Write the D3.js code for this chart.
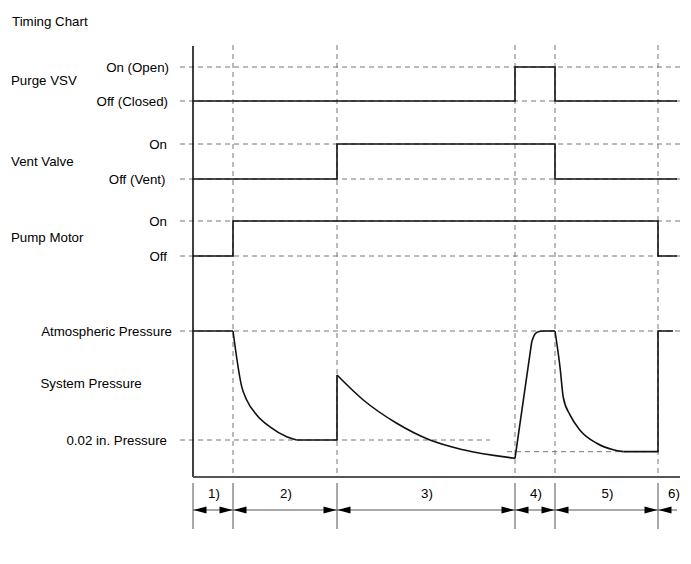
<!DOCTYPE html>
<html><head><meta charset="utf-8">
<script src="https://cdn.jsdelivr.net/npm/d3@7"></script>
<style>html,body{margin:0;padding:0;background:#fff;}svg{display:block;font-family:"Liberation Sans",Arial,sans-serif;}</style>
</head><body>
<svg id="chart" width="691" height="564"></svg>
<script>
// ---- data ----
const title = "Timing Chart";
const phaseBounds = [0, 40, 144, 322, 362, 465];
const phaseLabels = ["1)", "2)", "3)", "4)", "5)", "6)"];
const timeEnd = 487;
const signalEnd = 484;

const signalNames = ["Purge VSV", "Vent Valve", "Pump Motor"];
const signalOnLabels = ["On (Open)", "On", "On"];
const signalOffLabels = ["Off (Closed)", "Off (Vent)", "Off"];
const purgeTimes = [0, 322, 362, signalEnd];
const purgeStates = [0, 1, 0, 0];
const ventTimes = [0, 144, 362, signalEnd];
const ventStates = [0, 1, 0, 0];
const pumpTimes = [0, 40, 465, signalEnd];
const pumpStates = [0, 1, 0, 0];

// pressure: 1 = atmospheric, 0 = 0.02 in. pressure
const pressureLabels = ["Atmospheric Pressure", "System Pressure", "0.02 in. Pressure"];
const pressPhase1 = [[0, 1], [40, 1]];
const pressPhase2 = [[40, 1], [48.7, 0.49], [53.7, 0.367], [63.7, 0.23], [77, 0.12], [93.7, 0.03], [103.7, 0]];
const pressPhase2Hold = [[103.7, 0], [144, 0], [144, 0.596]];
const pressPhase3 = [[144, 0.596], [170.3, 0.367], [203.7, 0.154], [237, 0], [270.3, -0.09], [322, -0.168]];
const pressPhase4Rise = [[322, -0.168], [338.7, 0.9]];
const pressPhase4Top = [[338.7, 0.9], [342, 0.972], [346, 0.995], [350, 1]];
const pressPhase4Hold = [[350, 1], [362, 1]];
const pressPhase5 = [[362, 1], [367, 0.67], [370.3, 0.39], [377, 0.23], [387, 0.09], [403.7, -0.03], [420.3, -0.09], [430.3, -0.107]];
const pressPhase5Hold = [[430.3, -0.107], [465, -0.107], [465, 1], [480, 1]];
const pressLowLevel = -0.107;

// ---- layout ----
const svg = d3.select("#chart");
const fs = 13.3;
const x = d3.scaleLinear().domain([0, timeEnd]).range([193, 680]);
const signalY = [
  d3.scaleLinear().domain([0, 1]).range([101, 67]),
  d3.scaleLinear().domain([0, 1]).range([179, 144]),
  d3.scaleLinear().domain([0, 1]).range([256, 221])
];
const pY = d3.scaleLinear().domain([0, 1]).range([440, 331]);
const plotTop = 45, axisBottom = 477;
const gridColor = "#777";
const dash = "5,4";

svg.append("text").attr("x", 12).attr("y", 26).attr("font-size", fs).text(title);

// vertical dashed phase lines
svg.selectAll(".vgrid").data(phaseBounds.slice(1)).join("line")
  .attr("x1", d => x(d)).attr("x2", d => x(d))
  .attr("y1", plotTop).attr("y2", axisBottom)
  .attr("stroke", gridColor).attr("stroke-dasharray", dash).attr("stroke-width", 1);

// horizontal dashed level lines
const levelLines = [];
signalY.forEach(s => { levelLines.push([180, 680, s(1)]); levelLines.push([180, 680, s(0)]); });
levelLines.push([180, 680, pY(1)]);
levelLines.push([180, 490, pY(0)]);
levelLines.push([x(314), x(465), pY(pressLowLevel)]);
svg.selectAll(".hgrid").data(levelLines).join("line")
  .attr("x1", d => d[0]).attr("x2", d => d[1]).attr("y1", d => d[2]).attr("y2", d => d[2])
  .attr("stroke", gridColor).attr("stroke-dasharray", dash).attr("stroke-width", 1);

// axes frame
svg.append("line").attr("x1", x(0)).attr("x2", x(0)).attr("y1", plotTop + 1).attr("y2", axisBottom)
  .attr("stroke", "#000").attr("stroke-width", 1.5);
svg.append("line").attr("x1", x(0)).attr("x2", 680).attr("y1", axisBottom).attr("y2", axisBottom)
  .attr("stroke", "#555").attr("stroke-width", 2);

// signal labels
const nameY = [80, 161.5, 237];
signalNames.forEach((n, i) => {
  svg.append("text").attr("x", 11).attr("y", nameY[i]).attr("dy", "0.35em").attr("font-size", fs).text(n);
});
const onX = [169, 167, 167], offX = [168, 165.5, 167];
signalOnLabels.forEach((n, i) => {
  svg.append("text").attr("x", onX[i]).attr("y", signalY[i](1)).attr("dy", "0.35em")
    .attr("text-anchor", "end").attr("font-size", fs).text(n);
});
signalOffLabels.forEach((n, i) => {
  svg.append("text").attr("x", offX[i]).attr("y", signalY[i](0)).attr("dy", "0.35em")
    .attr("text-anchor", "end").attr("font-size", fs).text(n);
});

// signals
const sigData = [[purgeTimes, purgeStates], [ventTimes, ventStates], [pumpTimes, pumpStates]];
sigData.forEach(([t, s], i) => {
  const pts = t.map((tt, j) => [tt, s[j]]);
  const line = d3.line().x(d => x(d[0])).y(d => signalY[i](d[1])).curve(d3.curveStepAfter);
  svg.append("path").attr("d", line(pts)).attr("fill", "none")
    .attr("stroke", "#111").attr("stroke-width", 1.6);
});

// pressure labels
svg.append("text").attr("x", 172).attr("y", pY(1)).attr("dy", "0.35em").attr("text-anchor", "end").attr("font-size", fs).text(pressureLabels[0]);
svg.append("text").attr("x", 40.5).attr("y", 383).attr("dy", "0.35em").attr("font-size", fs).text(pressureLabels[1]);
svg.append("text").attr("x", 167).attr("y", pY(0)).attr("dy", "0.35em").attr("text-anchor", "end").attr("font-size", fs).text(pressureLabels[2]);

// pressure curve
const linear = d3.line().x(d => x(d[0])).y(d => pY(d[1]));
const smooth = d3.line().x(d => x(d[0])).y(d => pY(d[1])).curve(d3.curveMonotoneX);
const pSegs = [
  [pressPhase1, linear], [pressPhase2, smooth], [pressPhase2Hold, linear], [pressPhase3, smooth],
  [pressPhase4Rise, linear], [pressPhase4Top, smooth], [pressPhase4Hold, linear],
  [pressPhase5, smooth], [pressPhase5Hold, linear]
];
pSegs.forEach(([pts, gen]) => {
  svg.append("path").attr("d", gen(pts)).attr("fill", "none")
    .attr("stroke", "#111").attr("stroke-width", 1.6).attr("stroke-linejoin", "round");
});

// phase ticks and arrows
const tickTop = 483, tickBot = 529, arrowY = 510;
svg.selectAll(".ptick").data(phaseBounds).join("line")
  .attr("x1", d => x(d)).attr("x2", d => x(d)).attr("y1", tickTop).attr("y2", tickBot)
  .attr("stroke", "#555").attr("stroke-width", 1);
const segs = phaseBounds.map((b, i) => [b, i < phaseBounds.length - 1 ? phaseBounds[i + 1] : null]);
const headL = 13, headW = 3.5;
function head(xTip, dir) {
  return `M${xTip},${arrowY}L${xTip - dir * headL},${arrowY - headW}L${xTip - dir * headL},${arrowY + headW}Z`;
}
segs.forEach(([a, b], i) => {
  const x0 = x(a), x1 = b === null ? 677 : x(b);
  svg.append("line").attr("x1", x0).attr("x2", x1).attr("y1", arrowY).attr("y2", arrowY)
    .attr("stroke", "#555").attr("stroke-width", 1);
  svg.append("path").attr("d", head(x0 + 0.5, -1)).attr("fill", "#000");
  if (b !== null) svg.append("path").attr("d", head(x1 - 0.5, 1)).attr("fill", "#000");
  const cx = b === null ? 674 : (x0 + x1) / 2 + 1;
  svg.append("text").attr("x", cx).attr("y", 493).attr("dy", "0.35em")
    .attr("text-anchor", "middle").attr("font-size", fs).text(phaseLabels[i]);
});
</script>
</body></html>
